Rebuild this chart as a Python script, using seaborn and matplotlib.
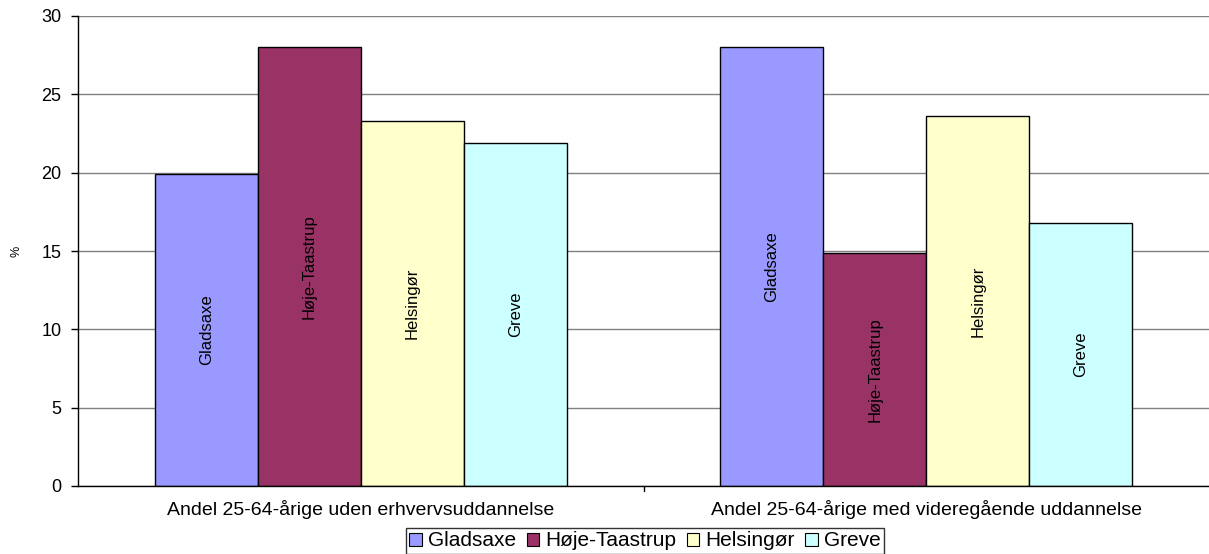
import numpy as np
import pandas as pd
import matplotlib
matplotlib.use("Agg")
import matplotlib.pyplot as plt
import seaborn as sns

categories = ["Andel 25-64-årige uden erhvervsuddannelse",
              "Andel 25-64-årige med videregående uddannelse"]
kommuner = ["Gladsaxe", "Høje-Taastrup", "Helsingør", "Greve"]
gladsaxe = [19.9, 28.0]
hoeje_taastrup = [28.0, 14.9]
helsingoer = [23.3, 23.6]
greve = [21.9, 16.8]
colors = ["#9999FF", "#993366", "#FFFFCC", "#CCFFFF"]

rows = []
for name, vals in zip(kommuner, [gladsaxe, hoeje_taastrup, helsingoer, greve]):
    for cat, v in zip(categories, vals):
        rows.append({"kategori": cat, "kommune": name, "value": v})
df = pd.DataFrame(rows)

sns.set_style("white", {"text.color": "black", "axes.labelcolor": "black",
                        "xtick.color": "black", "ytick.color": "black"})
plt.rcParams["font.family"] = ["Liberation Sans", "DejaVu Sans"]

fig = plt.figure(figsize=(12.09, 5.54), dpi=100)
ax = fig.add_axes([78 / 1209, 1 - 486 / 554, 1 - 78 / 1209, (486 - 16) / 554])
sns.barplot(data=df, x="kategori", y="value", hue="kommune", order=categories,
            hue_order=kommuner, palette=colors, saturation=1, width=0.728,
            edgecolor="black", linewidth=1.0, ax=ax)

# navne inde i soejlerne
for name, cont in zip(kommuner, ax.containers):
    for bar in cont:
        ax.text(bar.get_x() + bar.get_width() / 2, bar.get_height() / 2, name,
                rotation=90, ha="center", va="center", fontsize=12, color="black",
                family=["Liberation Sans Narrow", "Liberation Sans", "DejaVu Sans"])

ax.set_xlim(-0.5, 1.5)
ax.set_ylim(0, 30)
ax.set_yticks(range(0, 31, 5))
ax.yaxis.grid(True, color="#808080", linewidth=1.0)
ax.set_axisbelow(True)
ax.set_xticks([0, 1])
ax.set_xticklabels(categories, fontsize=14)
ax.tick_params(axis="y", labelsize=13, length=5, width=1, color="black", direction="out",
               left=True, pad=7)
ax.tick_params(axis="x", length=0, pad=10)
for x in [0.5]:
    ax.plot([x, x], [0, -0.3], color="black", lw=1, clip_on=False)
ax.set_xlabel("")
ax.set_ylabel("%", fontsize=9)
ax.yaxis.set_label_coords(-0.049, 0.5)
for s in ["top", "right"]:
    ax.spines[s].set_visible(False)
for s in ["left", "bottom"]:
    ax.spines[s].set_color("black")
    ax.spines[s].set_linewidth(1.0)

ax.legend_.remove()
handles = [plt.Rectangle((0, 0), 1, 1, facecolor=c, edgecolor="black", lw=0.8) for c in colors]
leg = fig.legend(handles, kommuner, loc="center", bbox_to_anchor=(645 / 1209, 1 - 541 / 554),
                 ncol=4, fontsize=15, frameon=True, fancybox=False, handlelength=0.6,
                 handleheight=0.6, handletextpad=0.3, columnspacing=0.5, borderpad=0.15,
                 borderaxespad=0)
leg.get_frame().set_edgecolor("black")
leg.get_frame().set_linewidth(1.0)

fig.savefig("out.png", dpi=100)
